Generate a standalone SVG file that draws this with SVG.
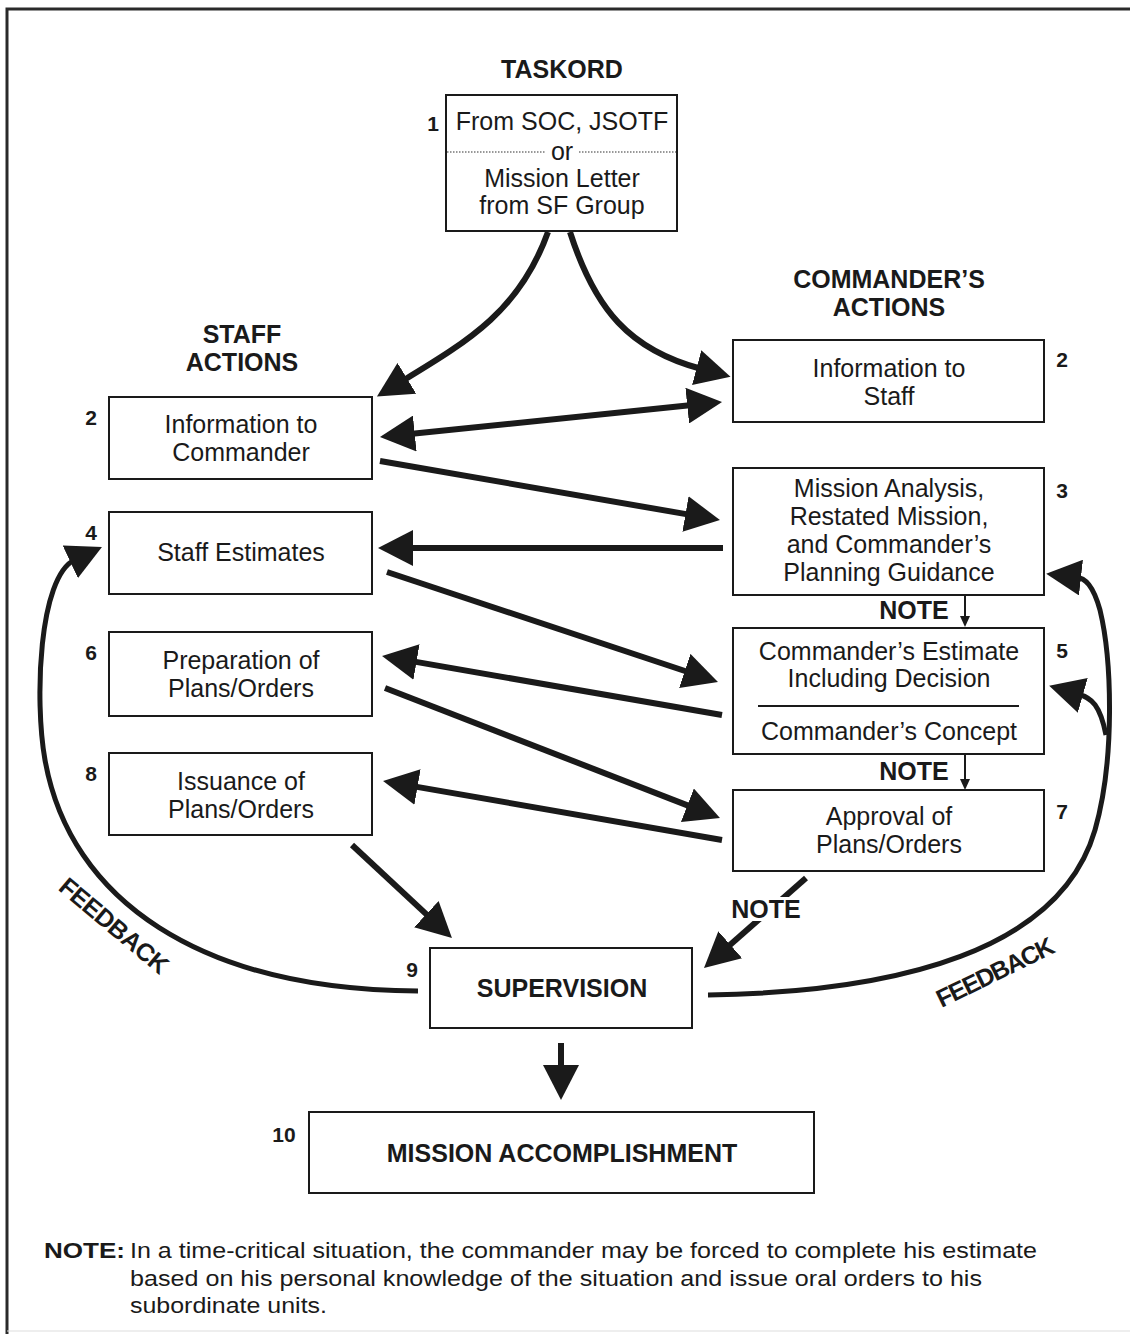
<svg xmlns="http://www.w3.org/2000/svg" width="1130" height="1334" viewBox="0 0 1130 1334">
  <style>
    .box { fill: #fff; stroke: #1a1a1a; stroke-width: 2; }
    .t { font-family: "Liberation Sans", Arial, sans-serif; font-size: 25px; fill: #1a1a1a; text-anchor: middle; }
    .b { font-family: "Liberation Sans", Arial, sans-serif; font-weight: bold; font-size: 25px; fill: #1a1a1a; text-anchor: middle; }
    .num { font-family: "Liberation Sans", Arial, sans-serif; font-weight: bold; font-size: 21px; fill: #1a1a1a; text-anchor: middle; }
    .note { font-family: "Liberation Sans", Arial, sans-serif; font-size: 22.5px; fill: #1a1a1a; }
    .arr { fill: none; stroke: #1a1a1a; stroke-width: 6; marker-end: url(#head); }
    .dbl { fill: none; stroke: #1a1a1a; stroke-width: 6; marker-end: url(#head); marker-start: url(#head); }
    .fb { fill: none; stroke: #1a1a1a; stroke-width: 5; }
    .thin { fill: none; stroke: #1a1a1a; stroke-width: 2; marker-end: url(#small); }
  </style>
  <defs>
    <marker id="head" viewBox="0 -18 35 36" markerWidth="35" markerHeight="36" refX="5" refY="0" markerUnits="userSpaceOnUse" orient="auto-start-reverse">
      <path d="M0,-18 L35,0 L0,18 z" fill="#1a1a1a"/>
    </marker>
    <marker id="small" viewBox="0 -5 11 10" markerWidth="11" markerHeight="10" refX="2" refY="0" markerUnits="userSpaceOnUse" orient="auto">
      <path d="M0,-5 L11,0 L0,5 z" fill="#1a1a1a"/>
    </marker>
  </defs>

  <rect width="1130" height="1334" fill="#fff"/>
  <!-- frame -->
  <path d="M7,1334 V9 H1130" fill="none" stroke="#2a2a2a" stroke-width="3"/>
  <line x1="7" y1="1331" x2="1130" y2="1331" stroke="#ddd" stroke-width="1"/>

  <!-- column headings -->
  <text class="b" x="562" y="78">TASKORD</text>
  <text class="b" x="242" y="343">STAFF</text>
  <text class="b" x="242" y="371">ACTIONS</text>
  <text class="b" x="889" y="288">COMMANDER’S</text>
  <text class="b" x="889" y="316">ACTIONS</text>

  <!-- connectors -->
  <g id="connectors">
    <path class="arr" d="M548,232 C520,310 470,340 402.6,380.9"/>
    <path class="arr" d="M570,232 C595,310 630,350 701.5,369"/>
    <line class="dbl" x1="409.8" y1="434" x2="692.2" y2="405.1"/>
    <line class="arr" x1="380" y1="461" x2="690.4" y2="514.9"/>
    <line class="arr" x1="723" y1="548" x2="408" y2="548"/>
    <line class="arr" x1="387" y1="572" x2="689.5" y2="672.5"/>
    <line class="arr" x1="722" y1="715" x2="411.6" y2="661.1"/>
    <line class="arr" x1="385" y1="688" x2="692" y2="807.1"/>
    <line class="arr" x1="722" y1="840" x2="412.6" y2="786.1"/>
    <line class="arr" x1="352" y1="845" x2="430" y2="917.6"/>
    <line class="arr" x1="806" y1="878" x2="726.5" y2="948.1"/>
    <line class="arr" x1="561" y1="1043" x2="561" y2="1070"/>
    <line class="thin" x1="965" y1="596" x2="965" y2="618"/>
    <line class="thin" x1="965" y1="755" x2="965" y2="781"/>
    <!-- feedback loops -->
    <path class="fb" d="M418,991 C200,990 70,900 45,760 C34.4,701 38.6,576.7 74.8,559.7" marker-end="url(#head)"/>
    <path class="fb" d="M708,995 C900,992 1060,950 1095,830 C1115,760 1112,660 1100,610 C1093,585 1085,578 1076,577" marker-end="url(#head)"/>
    <path class="fb" d="M1106,735 C1100,705 1092,698 1078,694" marker-end="url(#head)"/>
  </g>

  <!-- connector labels -->
  <text class="b" x="914" y="619" font-size="23">NOTE</text>
  <text class="b" x="914" y="780" font-size="23">NOTE</text>
  <rect x="731" y="897" width="72" height="24" fill="#fff"/>
  <text class="b" x="766" y="918" font-size="23">NOTE</text>
  <text class="b" font-size="22" x="0" y="0" textLength="134" transform="translate(108.5,932.4) rotate(40)">FEEDBACK</text>
  <text class="b" font-size="22" x="0" y="0" textLength="128" transform="translate(999,980) rotate(-26)">FEEDBACK</text>

  <!-- nodes -->
  <g id="n1">
    <rect class="box" x="446" y="95" width="231" height="136"/>
    <text class="num" x="433" y="131">1</text>
    <text class="t" x="562" y="130">From SOC, JSOTF</text>
    <path d="M447,152 H545 M579,152 H676" stroke="#333" stroke-width="1.2" stroke-dasharray="1.5 1.5"/>
    <text class="t" x="562" y="160">or</text>
    <text class="t" x="562" y="187">Mission Letter</text>
    <text class="t" x="562" y="214">from SF Group</text>
  </g>
  <g id="n2s">
    <rect class="box" x="109" y="397" width="263" height="82"/>
    <text class="num" x="91" y="425">2</text>
    <text class="t" x="241" y="433">Information to</text>
    <text class="t" x="241" y="461">Commander</text>
  </g>
  <g id="n4">
    <rect class="box" x="109" y="512" width="263" height="82"/>
    <text class="num" x="91" y="540">4</text>
    <text class="t" x="241" y="561">Staff Estimates</text>
  </g>
  <g id="n6">
    <rect class="box" x="109" y="632" width="263" height="84"/>
    <text class="num" x="91" y="660">6</text>
    <text class="t" x="241" y="669">Preparation of</text>
    <text class="t" x="241" y="697">Plans/Orders</text>
  </g>
  <g id="n8">
    <rect class="box" x="109" y="753" width="263" height="82"/>
    <text class="num" x="91" y="781">8</text>
    <text class="t" x="241" y="790">Issuance of</text>
    <text class="t" x="241" y="818">Plans/Orders</text>
  </g>
  <g id="n2c">
    <rect class="box" x="733" y="340" width="311" height="82"/>
    <text class="num" x="1062" y="367">2</text>
    <text class="t" x="889" y="377">Information to</text>
    <text class="t" x="889" y="405">Staff</text>
  </g>
  <g id="n3">
    <rect class="box" x="733" y="468" width="311" height="127"/>
    <text class="num" x="1062" y="498">3</text>
    <text class="t" x="889" y="497">Mission Analysis,</text>
    <text class="t" x="889" y="525">Restated Mission,</text>
    <text class="t" x="889" y="553">and Commander’s</text>
    <text class="t" x="889" y="581">Planning Guidance</text>
  </g>
  <g id="n5">
    <rect class="box" x="733" y="628" width="311" height="126"/>
    <text class="num" x="1062" y="658">5</text>
    <text class="t" x="889" y="660">Commander’s Estimate</text>
    <text class="t" x="889" y="687">Including Decision</text>
    <line x1="758" y1="706" x2="1019" y2="706" stroke="#1a1a1a" stroke-width="2"/>
    <text class="t" x="889" y="740">Commander’s Concept</text>
  </g>
  <g id="n7">
    <rect class="box" x="733" y="790" width="311" height="81"/>
    <text class="num" x="1062" y="819">7</text>
    <text class="t" x="889" y="825">Approval of</text>
    <text class="t" x="889" y="853">Plans/Orders</text>
  </g>
  <g id="n9">
    <rect class="box" x="430" y="948" width="262" height="80"/>
    <text class="num" x="412" y="977">9</text>
    <text class="b" x="562" y="997">SUPERVISION</text>
  </g>
  <g id="n10">
    <rect class="box" x="309" y="1112" width="505" height="81"/>
    <text class="num" x="284" y="1142">10</text>
    <text class="b" x="562" y="1162">MISSION ACCOMPLISHMENT</text>
  </g>

  <!-- footnote -->
  <g id="footnote">
    <text class="note" x="44" y="1258" font-weight="bold" textLength="81" lengthAdjust="spacingAndGlyphs">NOTE:</text>
    <text class="note" x="130" y="1258" textLength="907" lengthAdjust="spacingAndGlyphs">In a time-critical situation, the commander may be forced to complete his estimate</text>
    <text class="note" x="130" y="1286" textLength="852" lengthAdjust="spacingAndGlyphs">based on his personal knowledge of the situation and issue oral orders to his</text>
    <text class="note" x="130" y="1313" textLength="197" lengthAdjust="spacingAndGlyphs">subordinate units.</text>
  </g>
</svg>
